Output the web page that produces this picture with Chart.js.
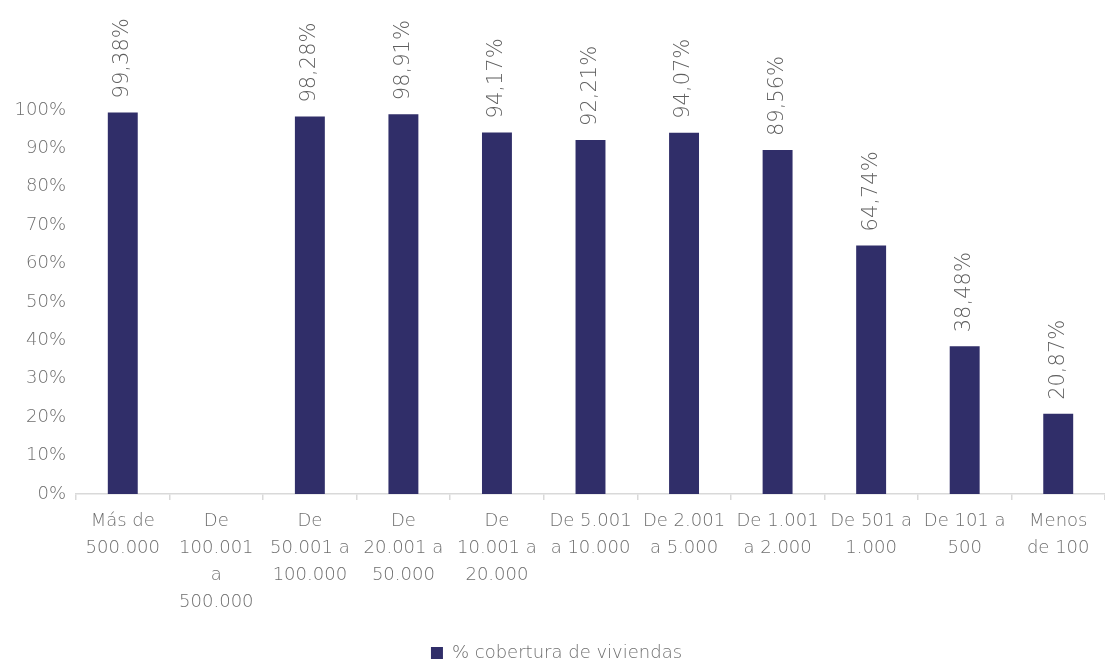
<!DOCTYPE html>
<html>
<head>
<meta charset="utf-8">
<script src="https://cdn.jsdelivr.net/npm/chart.js@4"></script>
<style>
  html, body { margin: 0; padding: 0; background: #fff; }
  #grafic { display: block; }
</style>
</head>
<body>
<canvas id="grafic" width="1105" height="666"></canvas>
<script>
// Categories (tamaño de municipio) i valors (% cobertura)
const categories = [
  ['Más de', '500.000'],
  ['De', '100.001', 'a', '500.000'],
  ['De', '50.001 a', '100.000'],
  ['De', '20.001 a', '50.000'],
  ['De', '10.001 a', '20.000'],
  ['De 5.001', 'a 10.000'],
  ['De 2.001', 'a 5.000'],
  ['De 1.001', 'a 2.000'],
  ['De 501 a', '1.000'],
  ['De 101 a', '500'],
  ['Menos', 'de 100']
];
const cobertura = [99.38, null, 98.28, 98.91, 94.17, 92.21, 94.07, 89.56, 64.74, 38.48, 20.87];
const etiquetaSerie = '% cobertura de viviendas';

const FONT = '"DejaVu Sans", sans-serif';
const PES = '200';
const GRIS = '#6f6f6f';
const BLAU = '#302e69';

// Etiquetes de valor girades sobre cada barra
const pluginEtiquetes = {
  id: 'etiquetes',
  afterDatasetsDraw(chart) {
    const { ctx } = chart;
    const meta = chart.getDatasetMeta(0);
    ctx.save();
    ctx.fillStyle = '#5e5e5e';
    ctx.font = PES + ' 21px ' + FONT;
    ctx.textAlign = 'left';
    ctx.textBaseline = 'middle';
    meta.data.forEach((bar, i) => {
      const v = cobertura[i];
      if (v === null) return;
      ctx.save();
      ctx.translate(bar.x, bar.y - 14);
      ctx.rotate(-Math.PI / 2);
      ctx.fillText(v.toFixed(2).replace('.', ',') + '%', 0, 0);
      ctx.restore();
    });
    ctx.restore();
  }
};

new Chart(document.getElementById('grafic').getContext('2d'), {
  type: 'bar',
  data: {
    labels: categories,
    datasets: [{
      label: etiquetaSerie,
      data: cobertura,
      backgroundColor: BLAU,
      borderWidth: 0,
      barPercentage: 0.32,
      categoryPercentage: 1.0,
    }]
  },
  options: {
    responsive: false,
    animation: false,
    devicePixelRatio: 1,
    layout: { padding: { top: 110, right: 0, left: 8, bottom: -6 } },
    plugins: {
      tooltip: { enabled: false },
      legend: {
        position: 'bottom',
        labels: {
          font: { size: 18, family: FONT, weight: PES },
          color: GRIS,
          boxWidth: 12,
          boxHeight: 12,
          padding: 4,
        }
      }
    },
    scales: {
      x: {
        grid: {
          display: true,
          drawOnChartArea: false,
          offset: true,
          color: '#d9d9d9',
          lineWidth: 1.5,
          tickLength: 6,
        },
        border: { color: '#d9d9d9', width: 1.5 },
        ticks: {
          color: GRIS,
          font: { size: 18, family: FONT, weight: PES, lineHeight: 1.5 },
          padding: 8,
          maxRotation: 0,
          autoSkip: false,
        },
        afterFit(scale) { scale.height = 146; }
      },
      y: {
        min: 0,
        max: 100,
        grid: { display: false, drawTicks: false },
        border: { display: false },
        ticks: {
          stepSize: 10,
          color: GRIS,
          font: { size: 18, family: FONT, weight: PES },
          padding: 10,
          callback: v => v + '%',
        },
        afterFit(scale) { scale.width = 68; }
      }
    }
  },
  plugins: [pluginEtiquetes]
});
</script>
</body>
</html>
